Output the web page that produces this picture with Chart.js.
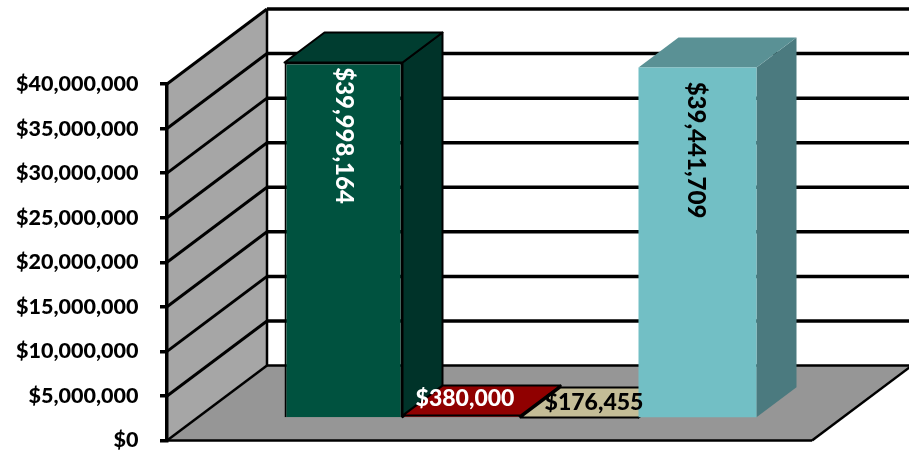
<!DOCTYPE html>
<html>
<head>
<meta charset="utf-8">
<style>
    html, body { margin: 0; padding: 0; background: #fff; }
    canvas { display: block; }
</style>
<script src="https://cdn.jsdelivr.net/npm/chart.js@4"></script>
</head>
<body>
<canvas id="chart" width="909" height="450"></canvas>
<script>
// Chart data
const categories = [''];
const seriesValues = [39998164, 380000, 176455, 39441709];
const tickValues = [0, 5000000, 10000000, 15000000, 20000000, 25000000, 30000000, 35000000, 40000000];

// Bar colours: front, top, side, outline
const frontColors = ['#00523f', '#8b0000', '#c4bd97', '#72bfc5'];
const topColors = ['#003d30', '#900000', '#c4bd97', '#5a9195'];
const sideColors = ['#003329', '#6b0000', '#9c9678', '#4b7a7f'];
const outlineColors = ['#000000', '#000000', '#000000', null];
const labelColors = ['#ffffff', '#ffffff', '#000000', '#000000'];

const money = v => '$' + v.toLocaleString('en-US');

// 3D look: how far the back wall sits from the axis, and where the bars stand on the floor
const WALL_DX = 100, WALL_DY = -75;
const BAR_DX = 31, BAR_DY = -21.5;
const DEPTH_DX = 40, DEPTH_DY = -30;

function poly(ctx, pts, fill, stroke, lineWidth) {
    ctx.beginPath();
    pts.forEach((p, i) => i ? ctx.lineTo(p[0], p[1]) : ctx.moveTo(p[0], p[1]));
    ctx.closePath();
    if (fill) { ctx.fillStyle = fill; ctx.fill(); }
    if (stroke) { ctx.strokeStyle = stroke; ctx.lineWidth = lineWidth; ctx.lineJoin = 'round'; ctx.stroke(); }
}

function line(ctx, x1, y1, x2, y2, width) {
    ctx.beginPath();
    ctx.moveTo(x1, y1);
    ctx.lineTo(x2, y2);
    ctx.strokeStyle = '#000';
    ctx.lineWidth = width;
    ctx.stroke();
}

const walls = {
    id: 'walls',
    beforeDraw(chart) {
        const { ctx, chartArea: area, scales: { y } } = chart;
        const zero = y.getPixelForValue(0);
        const top = y.getPixelForValue(40000000);
        ctx.save();
        // side wall
        poly(ctx, [[area.left, zero], [area.left, top], [area.left + WALL_DX, top + WALL_DY], [area.left + WALL_DX, zero + WALL_DY]], '#a6a6a6');
        // floor
        poly(ctx, [[area.left, zero], [area.right, zero], [area.right + WALL_DX, zero + WALL_DY], [area.left + WALL_DX, zero + WALL_DY]], '#969696');
        // grid lines run along the side wall and then the back wall
        tickValues.forEach(v => {
            const py = y.getPixelForValue(v);
            const w = v === 0 ? 2.5 : 3.5;
            line(ctx, area.left, py, area.left + WALL_DX, py + WALL_DY, v === 0 ? 2.5 : 3);
            line(ctx, area.left + WALL_DX, py + WALL_DY, chart.width, py + WALL_DY, w);
        });
        line(ctx, area.left + WALL_DX, top + WALL_DY, area.left + WALL_DX, zero + WALL_DY, 2.5);
        // floor edges
        line(ctx, area.left, zero, area.right, zero, 2.5);
        line(ctx, area.right, zero, area.right + WALL_DX, zero + WALL_DY, 2.5);
        ctx.restore();
    }
};

const bars3d = {
    id: 'bars3d',
    beforeDatasetsDraw(chart) {
        const { ctx } = chart;
        ctx.save();
        ctx.translate(BAR_DX, BAR_DY);
        // top and side faces go under all the fronts, left to right
        chart.data.datasets.forEach((ds, i) => {
            const bar = chart.getDatasetMeta(i).data[0];
            const l = bar.x - bar.width / 2, r = bar.x + bar.width / 2;
            const stroke = outlineColors[i];
            poly(ctx, [[r, bar.y], [r + DEPTH_DX, bar.y + DEPTH_DY], [r + DEPTH_DX, bar.base + DEPTH_DY], [r, bar.base]], sideColors[i], stroke, 2);
            poly(ctx, [[l, bar.y], [l + DEPTH_DX, bar.y + DEPTH_DY], [r + DEPTH_DX, bar.y + DEPTH_DY], [r, bar.y]], topColors[i], stroke, 2);
        });
    },
    afterDatasetsDraw(chart) {
        const { ctx } = chart;
        ctx.restore();
        ctx.save();
        ctx.textBaseline = 'middle';
        ctx.textAlign = 'center';
        seriesValues.forEach((v, i) => {
            const bar = chart.getDatasetMeta(i).data[0];
            const cx = bar.x + BAR_DX;
            ctx.fillStyle = labelColors[i];
            if (i === 0 || i === 3) {
                ctx.font = '900 24px Lato';
                ctx.save();
                ctx.translate(i === 0 ? cx : cx - 2, i === 0 ? 135.5 : 150);
                ctx.rotate(Math.PI / 2);
                ctx.fillText(money(v), 0, 0);
                ctx.restore();
            } else if (i === 1) {
                ctx.font = '900 23px Lato';
                ctx.fillText(money(v), 465, 399);
            } else {
                ctx.font = '900 23px Lato';
                ctx.fillText(money(v), 594, 403);
            }
        });
        ctx.restore();
    }
};

new Chart(document.getElementById('chart'), {
    type: 'bar',
    plugins: [walls, bars3d],
    data: {
        labels: categories,
        datasets: seriesValues.map((v, i) => ({
            label: money(v),
            data: [v],
            backgroundColor: frontColors[i],
            borderColor: outlineColors[i] || frontColors[i],
            borderWidth: outlineColors[i] ? 2 : 0,
            clip: false
        }))
    },
    options: {
        responsive: false,
        animation: false,
        categoryPercentage: 472 / 645,
        barPercentage: 1,
        layout: { padding: { top: 84, right: 97, bottom: 9.5, left: 0 } },
        plugins: {
            legend: { display: false },
            tooltip: { enabled: false }
        },
        scales: {
            x: { display: false },
            y: {
                min: 0,
                max: 40000000,
                afterFit(scale) {
                    scale.width = 167;
                    scale.paddingTop = 0;
                    scale.paddingBottom = 0;
                },
                afterBuildTicks(scale) { scale.ticks = tickValues.map(value => ({ value })); },
                ticks: {
                    callback: v => money(v),
                    color: '#000',
                    padding: 21.5,
                    font: { family: 'Lato', weight: '900', size: 21.5 }
                },
                grid: {
                    drawOnChartArea: false,
                    color: '#000',
                    lineWidth: 3.5,
                    tickLength: 7
                },
                border: { color: '#000', width: 3.5 }
            }
        }
    }
});
</script>
</body>
</html>
